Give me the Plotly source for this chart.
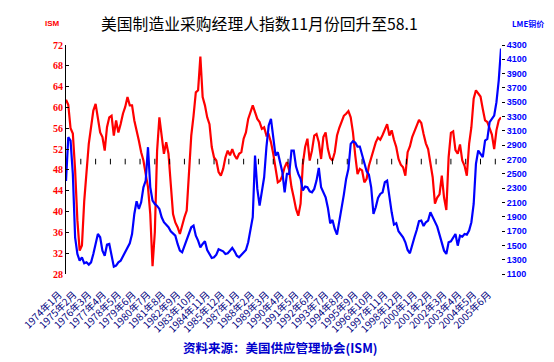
import plotly.graph_objects as go

# ---- data, bimonthly samples Jan-1974 .. Nov-2005 ----
start_year, start_month = 1974, 1
step_months = 2

ism = [
    61.5, 60.5, 56, 55, 48, 38.3, 32.5, 33.5, 42, 48.5, 53, 56.2, 59.4, 60.7, 57.5, 55.2,
    54.3, 51.7, 56.2, 58.1, 58.4, 54.6, 57.5, 55.2, 56.8, 58.8, 60.1, 62, 60.4, 60.4, 57.5, 55.2,
    53.6, 51.4, 49.8, 47.2, 44.7, 39.5, 29.5, 36, 51.7, 58.1, 54.3, 51.1, 53.3, 51.1, 45.3, 39.5,
    37.9,
    37, 35.7, 37.6, 38.9, 40.2, 47.9, 54.6, 58.4, 62.9, 63.3, 69.8, 62, 60.4, 58.1, 56.8, 52.4,
    50.4, 49.8, 47.6, 46.9, 48.2, 50.4, 51.7, 50.8, 52, 50.8, 50.1, 51.1, 51.4, 54, 55.2, 57.8,
    59.1, 60.4, 59.1, 57.8, 57.2, 55.9, 56.2, 54.6, 54.8, 53.3, 51.1, 48.5, 45.6, 45.9, 46.9,
    48.5, 49.5, 47.9, 44.7, 42.7, 40.5, 39.2, 41.5, 49.2, 52.4, 54, 49.8, 51.7, 54.6, 54.9, 53.3,
    50.1, 54.3, 55.2, 52, 50.3, 49.8, 51.4, 54.6, 56.1, 57.4, 58.4, 58.8, 59.3, 58.1, 55.2, 50.8,
    47.2, 48.2, 47.9, 45.6, 46.3, 48.8, 50.3, 51.7, 53.3, 54.2, 53.8, 54.7, 55.6, 56.8, 54.6,
    55.6, 53.8, 52.4, 50.1, 49, 48.5, 46.9, 51.4, 52.5, 54.3, 55.6, 56.5, 57.6, 57, 54.9, 53.1,
    52, 49.2, 46.6, 41.5, 42.7, 43.3, 46.9, 42.7, 40.3, 50.4, 55.1, 55.4, 51.8, 51.1, 52.9, 49.8,
    48.8, 46.9, 53, 56.2, 61.7, 63.3, 62.6, 62.1, 59.7, 57.5, 57.2, 55.9, 54.8, 52, 55.6, 57.5,
    58.1,
]

copper = [
    2400, 3011, 2965, 2499, 1613, 1380, 1286, 1333, 1249, 1263, 1231, 1263, 1380, 1543, 1659, 1613,
    1426, 1356, 1510, 1520, 1342, 1203, 1217, 1263, 1286, 1342, 1417, 1473, 1529, 1659, 1939, 2116,
    2009, 2102, 2312, 2405, 2872, 2312, 2126, 2079, 2051, 2009, 1893, 1823, 1785, 1753, 1697, 1659,
    1636,
    1520, 1426, 1403, 1496, 1576, 1650, 1753, 1776, 1636, 1566, 1473, 1520, 1557, 1436, 1380, 1324,
    1333, 1370, 1445, 1426, 1417, 1380, 1389, 1426, 1464, 1417, 1356, 1333, 1366, 1398, 1436, 1543,
    1706, 1893, 2755, 2289, 2056, 2266, 2452, 2872, 3175, 3268, 2988, 2755, 2802, 2676, 2522,
    2242, 2499, 2499, 2825, 2825, 2601, 2499, 2429, 2266, 2321, 2312, 2256, 2242, 2289, 2405, 2583,
    2312, 2228, 2172, 2023, 1809, 1855, 1729, 1650, 1823, 1986, 2210, 2429, 2569, 2918, 2955, 2937,
    2881, 2881, 2778, 2648, 2536, 2489, 2312, 1939, 2032, 2163, 2219, 2242, 2382, 2405, 2149,
    1962, 1790, 1809, 1697, 1650, 1613, 1543, 1436, 1389, 1520, 1613, 1715, 1837, 1846, 1771, 1823,
    1846, 1962, 1893, 1823, 1762, 1650, 1543, 1426, 1380, 1543, 1557, 1603, 1659, 1496, 1636, 1622,
    1659, 1650, 1706, 1823, 2079, 2638, 2825, 2778, 2732, 2965, 2988, 3221, 3268, 3314, 3501, 3804,
    4250,
]

label_step = 13          # one category label every 13 months
n_labels = 30
ism_ticks = list(range(28, 73, 4))
copper_ticks = list(range(1100, 4301, 200))

title_text = "美国制造业采购经理人指数11月份回升至58.1"
source_text = "资料来源：美国供应管理协会(ISM)"

# ---- derived positions ----
x = [i * step_months for i in range(len(ism))]
tickvals = [k * label_step for k in range(n_labels)]
ticktext = []
for v in tickvals:
    tot = (start_month - 1) + v
    ticktext.append(f"{start_year + tot // 12}年{tot % 12 + 1}月")

fig = go.Figure()
fig.add_trace(go.Scatter(x=x, y=ism, mode="lines", line=dict(color="#FF0000", width=2.2),
                         yaxis="y", showlegend=False, hoverinfo="skip"))
fig.add_trace(go.Scatter(x=x, y=copper, mode="lines", line=dict(color="#0000FF", width=2.2),
                         yaxis="y2", showlegend=False, hoverinfo="skip"))
# category-axis tick marks (axis crosses at 50)
fig.add_trace(go.Scatter(x=tickvals, y=[49.6] * len(tickvals), mode="markers",
                         marker=dict(symbol="line-ns", size=4, line=dict(color="black", width=1)),
                         yaxis="y", showlegend=False, hoverinfo="skip"))

# the page body adds an 8px margin, so the figure is sized to the visible area
fig.update_layout(
    width=546, height=354,
    margin=dict(l=51, r=53, t=37, b=88),
    paper_bgcolor="white", plot_bgcolor="white",
    xaxis=dict(range=[0, x[-1]], tickmode="array", tickvals=tickvals, ticktext=ticktext,
               tickangle=-45, showgrid=False, zeroline=False, showline=False, ticks="",
               tickfont=dict(family="Noto Sans CJK SC", size=10, color="#000080"),
               ticklabelstandoff=12, ticklabelshift=-7),
    yaxis=dict(range=[28, 72], tickmode="array", tickvals=ism_ticks, showgrid=False,
               zeroline=False, showline=True, linecolor="black", linewidth=1,
               ticks="inside", ticklen=3, tickcolor="black",
               tickfont=dict(family="Liberation Serif", size=10, color="#FF0000", weight="bold")),
    yaxis2=dict(range=[1100, 4300], tickmode="array", tickvals=copper_ticks, overlaying="y",
                side="right", showgrid=False, zeroline=False, showline=False,
                ticks="outside", ticklen=3, tickcolor="black",
                tickfont=dict(family="Liberation Sans", size=9, color="#0000FF", weight="bold")),
    annotations=[
        dict(text=title_text, xref="paper", yref="paper", x=0.4457, y=1.095,
             xanchor="center", yanchor="middle", showarrow=False,
             font=dict(family="Noto Sans CJK SC", size=15.8, color="black")),
        dict(text="ISM", xref="paper", yref="paper", x=-0.032, y=1.096,
             xanchor="center", yanchor="middle", showarrow=False,
             font=dict(family="Liberation Sans", size=8, color="#FF0000", weight="bold")),
        dict(text="LME铜价", xref="paper", yref="paper", x=1.063, y=1.096,
             xanchor="center", yanchor="middle", showarrow=False,
             font=dict(family="Noto Sans CJK SC", size=8, color="#0000FF", weight="bold")),
        dict(text=source_text, xref="paper", yref="paper", x=0.494, y=-0.319,
             xanchor="center", yanchor="middle", showarrow=False,
             font=dict(family="Noto Sans CJK SC", size=12.5, color="#0000CC", weight="bold")),
    ],
)

fig.write_html("out.html")
